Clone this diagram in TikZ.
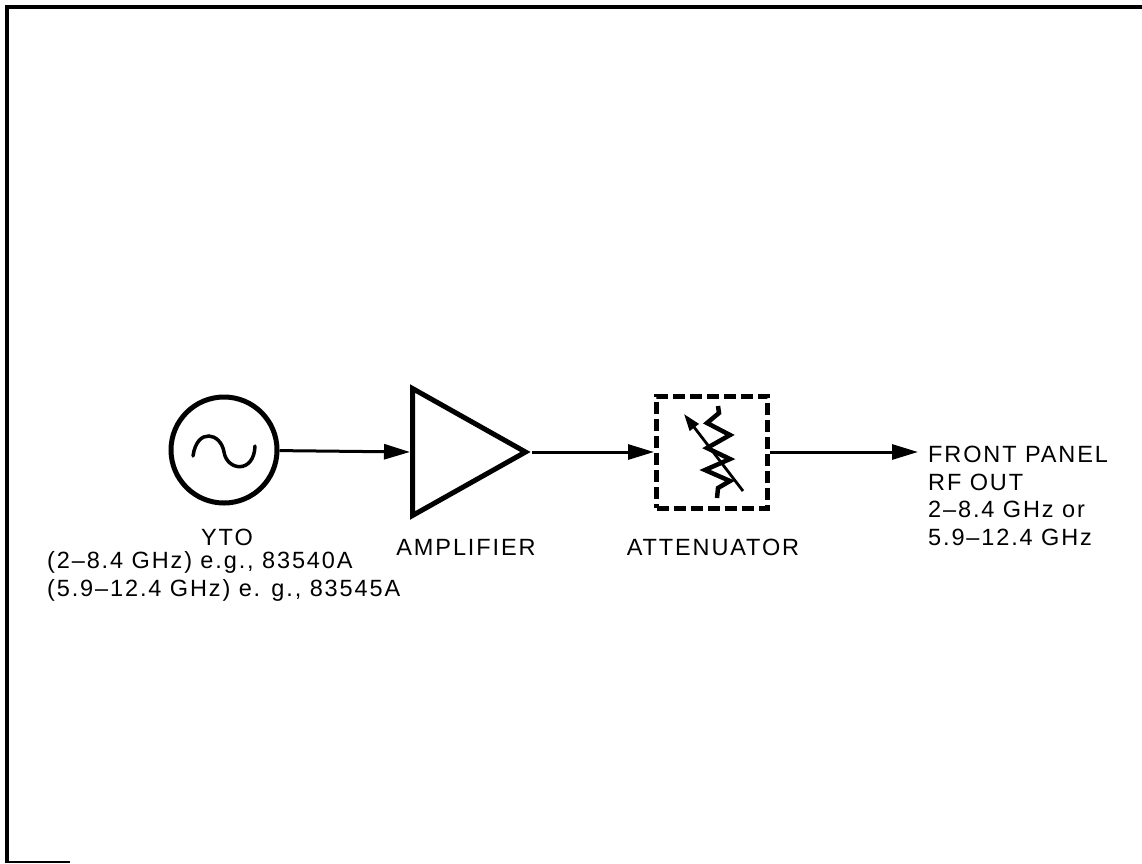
\documentclass[tikz,border=0pt]{standalone}
\usepackage{fontspec}
\setmainfont{Liberation Sans}[LetterSpace=8]
\usetikzlibrary{arrows.meta,shapes.geometric}
\tikzset{
  lbl/.style={inner sep=0pt, font=\fontsize{23.5}{27.5}\selectfont},
  blk/.style={draw, line width=5pt, inner sep=0pt},
  wire/.style={->, line width=3pt}
}
\begin{document}
\begin{tikzpicture}[x=1pt,y=-1pt,>={Triangle[length=26pt,width=15pt]}]
\useasboundingbox (0,0) rectangle (1142,863);
% border of the page
\draw[line width=3.5pt](7,863)--(7,7)--(1142,7);
\draw[line width=1.5pt](7,862)--(70,862);
% blocks
\node[blk, circle, minimum size=106pt] (yto) at (224,450) {};
\begin{scope}[shift={(yto.center)}]
\draw[line width=3.5pt, line cap=round](-31,6)
  .. controls (-27,-23) and (-3,-17) .. (0,2)
  .. controls (3,21) and (30,24) .. (31,-4);
\end{scope}
\node[blk, isosceles triangle, isosceles triangle stretches, minimum width=127pt,
  minimum height=113pt, anchor=lower side] (amp) at (410,452) {};
\node[blk, dash pattern=on 12pt off 5pt, minimum width=111pt, minimum height=112pt] (att) at (712,452) {};
\begin{scope}[shift={(att.center)}]
\draw[line width=4.5pt, line join=miter](6,-46)--(7,-39)--(-5,-29)--(18,-17)--(-5,-4)--(18,7)--(-7,18)--(18,29)--(6,36)--(5,46);
\draw[->, line width=2.8pt, >={Triangle[length=17pt,width=11pt]}](31,39)--(-28,-38);
\end{scope}
% connectors
\draw[wire](yto)--(amp.lower side);
\draw[wire](amp.apex)--(att.west);
\coordinate (rfout) at (918,452);
\draw[wire](att.east)--(rfout);
% labels
\node[lbl] (ytolbl) at (227,537) {YTO};
\node[lbl, align=left, anchor=west] (ytorng) at (47,576.5) {(2--8.4 GHz) e.g., 83540A\\(5.9--12.4 GHz) e. g., 83545A};
\node[lbl] (amplbl) at (466,547) {AMPLIFIER};
\node[lbl] (attlbl) at (713,547) {ATTENUATOR};
\node[lbl, align=left, anchor=north west] (outlbl) at (928,446) {FRONT PANEL\\RF OUT\\2--8.4 GHz or\\5.9--12.4 GHz};
\end{tikzpicture}
\end{document}
